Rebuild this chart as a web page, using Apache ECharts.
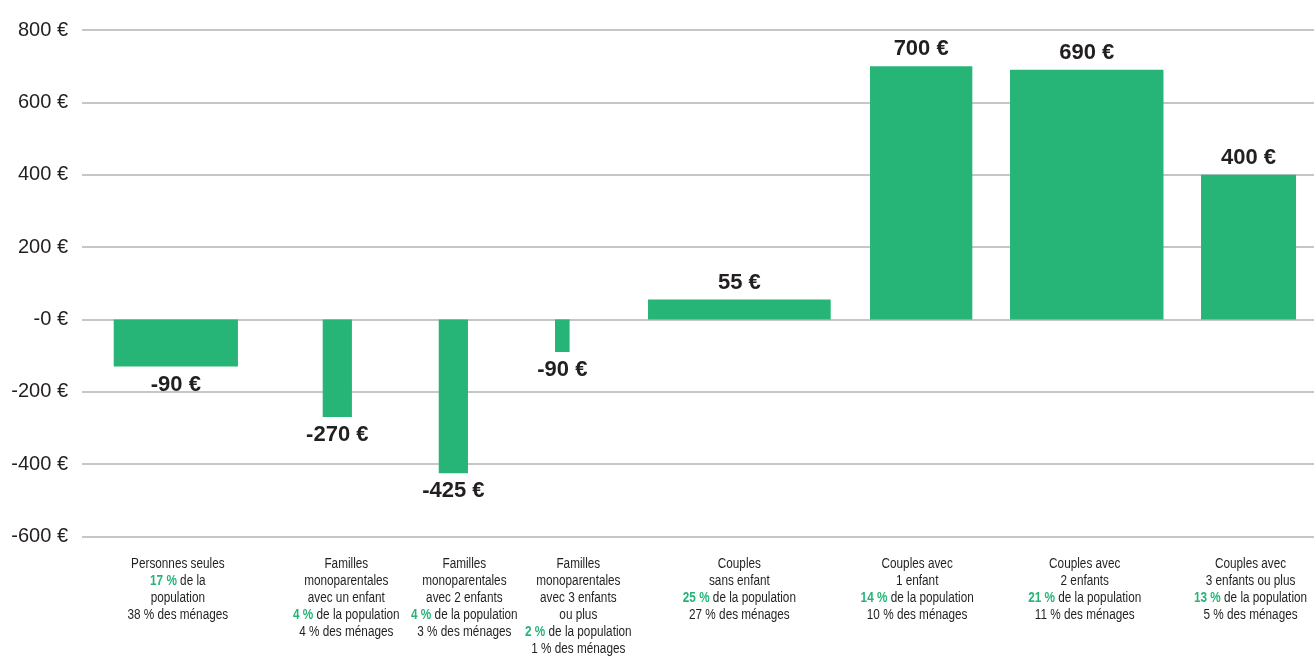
<!DOCTYPE html>
<html>
<head>
<meta charset="utf-8">
<script src="https://cdn.jsdelivr.net/npm/echarts@6/dist/echarts.min.js"></script>
<style>
  html, body { margin: 0; padding: 0; background: #ffffff; }
  #chart { width: 1314px; height: 657px; }
</style>
</head>
<body>
<div id="chart"></div>
<script>
// ---------------- DATA ----------------
const categories = [
  'Personnes seules',
  'Familles monoparentales avec un enfant',
  'Familles monoparentales avec 2 enfants',
  'Familles monoparentales avec 3 enfants ou plus',
  'Couples sans enfant',
  'Couples avec 1 enfant',
  'Couples avec 2 enfants',
  'Couples avec 3 enfants ou plus'
];
// bar heights as drawn in the picture (€)
const values = [-130, -270, -425, -90, 55, 700, 690, 400];
// value labels as printed in the picture
const valueLabels = ['-90 €', '-270 €', '-425 €', '-90 €', '55 €', '700 €', '690 €', '400 €'];
// share of population (%), also drives bar width
const populationShare = [17, 4, 4, 2, 25, 14, 21, 13];
// share of households (%)
const householdShare = [38, 4, 3, 1, 27, 10, 11, 5];
// category label lines ({g|...} = green share of population)
const categoryLabelLines = [
  ['Personnes seules', '{g|17 %} de la', 'population', '38 % des ménages'],
  ['Familles', 'monoparentales', 'avec un enfant', '{g|4 %} de la population', '4 % des ménages'],
  ['Familles', 'monoparentales', 'avec 2 enfants', '{g|4 %} de la population', '3 % des ménages'],
  ['Familles', 'monoparentales', 'avec 3 enfants', 'ou plus', '{g|2 %} de la population', '1 % des ménages'],
  ['Couples', 'sans enfant', '{g|25 %} de la population', '27 % des ménages'],
  ['Couples avec', '1 enfant', '{g|14 %} de la population', '10 % des ménages'],
  ['Couples avec', '2 enfants', '{g|21 %} de la population', '11 % des ménages'],
  ['Couples avec', '3 enfants ou plus', '{g|13 %} de la population', '5 % des ménages']
];
const yTickValues = [-600, -400, -200, 0, 200, 400, 600, 800];
const yTickLabels = ['-600 €', '-400 €', '-200 €', '-0 €', '200 €', '400 €', '600 €', '800 €'];

// ---------------- LAYOUT / STYLE ----------------
const GREEN = '#26b577';
const DARK = '#231f20';
const GAPS = [4.34, 11.6, 11.88, 11.91, 10.73, 5.38, 5.16, 5.14]; // spacing before each bar (x-axis units)
const LABEL_SHIFT = [2, 9, 11, 16, 0, -4, -2, 2];                  // small horizontal nudge of category labels (px)
const X_MAX = 168.6;
const Y_MIN = -600, Y_MAX = 800;
const FONT = '"Liberation Sans", Arial, sans-serif';

const seriesData = [];
let cursor = 0;
for (let i = 0; i < values.length; i++) {
  const start = cursor + GAPS[i];
  const end = start + populationShare[i];
  seriesData.push([start, end, values[i]]);
  cursor = end;
}

function renderItem(params, api) {
  const i = params.dataIndex;
  const x0 = api.value(0), x1 = api.value(1), v = api.value(2);
  const pA = api.coord([x0, 0]);
  const pB = api.coord([x1, v]);
  const cx = (pA[0] + pB[0]) / 2;
  const yTop = Math.min(pA[1], pB[1]);
  const h = Math.abs(pB[1] - pA[1]);
  const base = api.coord([x0, Y_MIN])[1];
  return {
    type: 'group',
    children: [
      {
        type: 'rect',
        shape: { x: pA[0], y: yTop, width: pB[0] - pA[0], height: h },
        style: { fill: GREEN }
      },
      {
        type: 'text',
        x: cx,
        y: v >= 0 ? pB[1] - 17 : pB[1] + 18,
        style: {
          text: valueLabels[i],
          fontFamily: FONT,
          fontWeight: 'bold',
          fontSize: 22,
          fill: DARK,
          align: 'center',
          verticalAlign: 'middle'
        }
      },
      {
        type: 'text',
        x: cx + LABEL_SHIFT[i],
        y: base + 19,
        scaleX: 0.84,
        style: {
          text: categoryLabelLines[i].join('\n'),
          fontFamily: FONT,
          fontSize: 14,
          lineHeight: 17,
          fill: DARK,
          align: 'center',
          verticalAlign: 'top',
          rich: {
            g: {
              fill: GREEN,
              fontWeight: 'bold',
              fontFamily: FONT,
              fontSize: 14,
              lineHeight: 17
            }
          }
        }
      }
    ]
  };
}

const chart = echarts.init(document.getElementById('chart'), null, { renderer: 'canvas' });
chart.setOption({
  animation: false,
  backgroundColor: '#ffffff',
  grid: { left: 82, right: 0, top: 30, bottom: 120.5, containLabel: false, outerBoundsMode: 'none' },
  xAxis: {
    type: 'value',
    min: 0,
    max: X_MAX,
    show: false
  },
  yAxis: {
    type: 'value',
    min: Y_MIN,
    max: Y_MAX,
    interval: 200,
    axisLine: { show: false },
    axisTick: { show: false },
    axisLabel: {
      margin: 14,
      fontFamily: FONT,
      fontSize: 20,
      color: DARK,
      formatter: function (val) {
        const k = yTickValues.indexOf(val);
        return k >= 0 ? yTickLabels[k] : '';
      }
    },
    splitLine: { lineStyle: { color: '#b3b3b3', width: 1.5 } }
  },
  series: [{
    type: 'custom',
    name: 'Gain',
    clip: false,
    renderItem: renderItem,
    encode: { x: [0, 1], y: 2 },
    data: seriesData
  }]
});
</script>
</body>
</html>
